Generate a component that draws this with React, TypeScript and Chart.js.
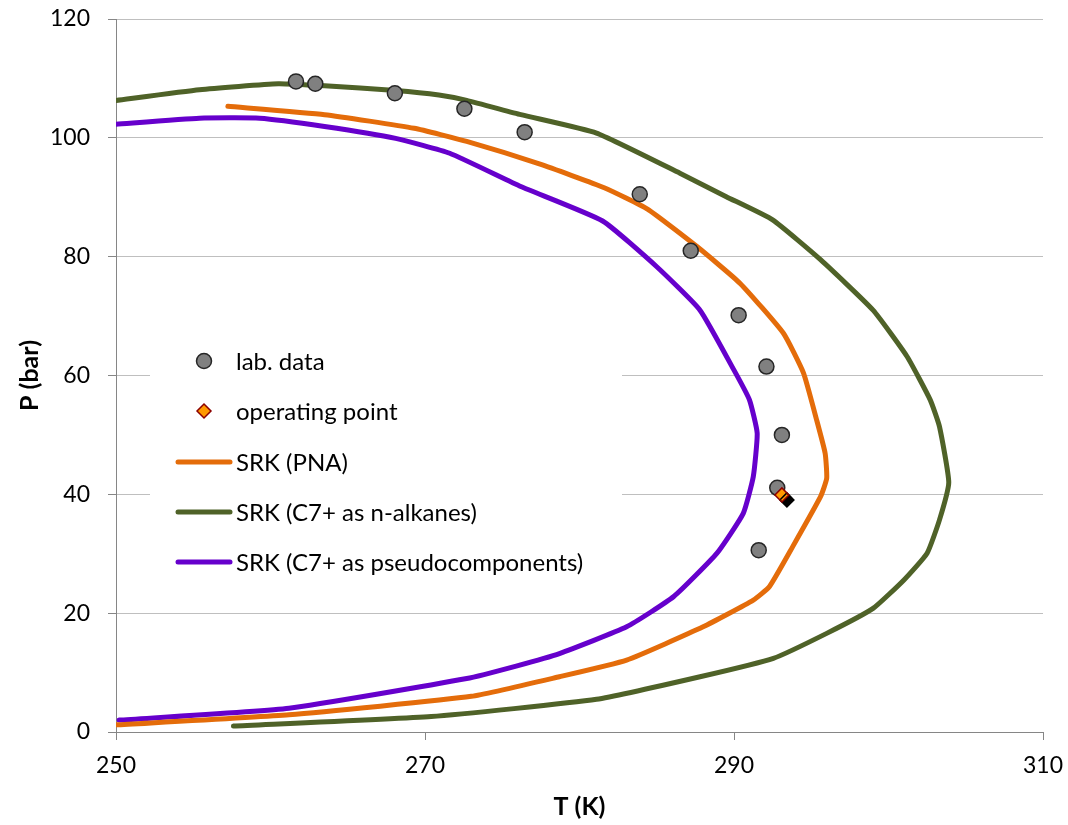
import React, { useEffect, useRef } from "react";
import { Chart, registerables } from "chart.js";

Chart.register(...registerables);

// Lab data
const labT = [261.65, 262.9, 268.05, 272.55, 276.45, 283.9, 287.2, 290.3, 292.1, 293.1, 292.8, 291.6];
const labP = [109.5, 109.1, 107.5, 104.9, 100.95, 90.5, 81.0, 70.15, 61.5, 50.0, 41.1, 30.6];

// Operating point
const opT = [293.1];
const opP = [39.9];

// SRK (PNA)
const pnaT = [257.24, 263.5, 269.3, 272.7, 277.4, 281.6, 284.4, 287.6, 290.4, 293.2, 294.5, 295.35, 295.9, 296.0, 295.6, 293.8, 292.3, 291.25, 288.0, 283.05, 278.7, 273.0, 261.2, 250.0];
const pnaP = [105.3, 103.9, 101.6, 99.4, 95.6, 91.6, 88.0, 81.7, 75.5, 67.1, 60.4, 52.5, 46.9, 42.7, 39.6, 31.2, 24.5, 22.2, 17.7, 12.1, 9.3, 6.0, 2.9, 1.2];

// SRK (C7+ as n-alkanes)
const alkT = [250.0, 255.4, 260.5, 263.5, 268.1, 270.9, 272.7, 276.2, 281.1, 286.5, 289.5, 292.5, 295.6, 299.0, 301.2, 302.7, 303.3, 303.9, 303.3, 302.5, 301.0, 299.0, 296.0, 292.55, 287.8, 281.1, 270.4, 257.6];
const alkP = [106.3, 108.1, 109.1, 108.75, 107.96, 107.2, 106.3, 103.9, 100.8, 94.05, 90.1, 86.2, 79.5, 71.0, 63.2, 55.9, 51.4, 42.0, 35.7, 30.1, 25.6, 20.8, 16.6, 12.4, 9.3, 5.5, 2.6, 1.0];

// SRK (C7+ as pseudocomponents)
const psT = [250.0, 255.4, 259.3, 263.5, 268.1, 271.6, 276.2, 281.5, 285.0, 287.8, 290.0, 291.0, 291.5, 291.25, 290.6, 288.9, 286.1, 283.05, 278.7, 275.9, 272.7, 261.2, 250.2];
const psP = [102.3, 103.3, 103.3, 101.9, 99.9, 97.4, 91.8, 86.0, 78.3, 71.0, 60.9, 55.9, 50.3, 43.0, 36.8, 30.1, 22.8, 17.7, 13.2, 11.1, 9.0, 4.0, 2.0];

const xTicks = [250, 270, 290, 310];
const yTicks = [0, 20, 40, 60, 80, 100, 120];

const labels = ["lab. data", "operating point", "SRK (PNA)", "SRK (C7+ as n-alkanes)", "SRK (C7+ as pseudocomponents)"];

const FONT = "Lato, 'Open Sans', sans-serif";

const zip = (xs: number[], ys: number[]) => xs.map((x, i) => ({ x, y: ys[i] }));

const COL_PNA = "#E46C0A";
const COL_ALK = "#4F6228";
const COL_PS = "#6600CC";

const shadowPlugin = {
  id: "opShadow",
  beforeDatasetDraw(chart: any, args: any) {
    if (args.index === 1) {
      const ctx = chart.ctx;
      ctx.save();
      ctx.shadowColor = "#000000";
      ctx.shadowOffsetX = 5;
      ctx.shadowOffsetY = 5;
      ctx.shadowBlur = 0;
    }
  },
  afterDatasetDraw(chart: any, args: any) {
    if (args.index === 1) chart.ctx.restore();
  },
};

const legendPlugin = {
  id: "insideLegend",
  beforeDatasetsDraw(chart: any) {
    const ctx = chart.ctx;
    const ds = chart.data.datasets;
    ctx.save();
    ctx.fillStyle = "#ffffff";
    ctx.fillRect(150, 332, 472, 256);
    const rowY = [361, 411, 462, 512, 562];
    ctx.font = `24px ${FONT}`;
    ctx.textBaseline = "middle";
    ctx.textAlign = "left";
    ds.forEach((d: any, i: number) => {
      const y = rowY[i];
      if (i === 0) {
        ctx.beginPath();
        ctx.arc(204, y, 7.5, 0, Math.PI * 2);
        ctx.fillStyle = d.pointBackgroundColor;
        ctx.fill();
        ctx.lineWidth = 1.5;
        ctx.strokeStyle = d.pointBorderColor;
        ctx.stroke();
      } else if (i === 1) {
        ctx.beginPath();
        ctx.moveTo(204, y - 7);
        ctx.lineTo(211, y);
        ctx.lineTo(204, y + 7);
        ctx.lineTo(197, y);
        ctx.closePath();
        ctx.fillStyle = d.pointBackgroundColor;
        ctx.fill();
        ctx.lineWidth = 1.5;
        ctx.strokeStyle = d.pointBorderColor;
        ctx.stroke();
      } else {
        ctx.beginPath();
        ctx.moveTo(178, y);
        ctx.lineTo(230, y);
        ctx.lineWidth = 5;
        ctx.lineCap = "round";
        ctx.strokeStyle = d.borderColor;
        ctx.stroke();
      }
      ctx.fillStyle = "#000000";
      ctx.fillText(d.label, 236, y + 1);
    });
    ctx.restore();
  },
};

export default function App() {
  const ref = useRef<HTMLCanvasElement>(null);

  useEffect(() => {
    if (!ref.current) return;
    const lineDs = (label: string, xs: number[], ys: number[], color: string, order: number) => ({
      label,
      data: zip(xs, ys),
      showLine: true,
      borderColor: color,
      backgroundColor: color,
      borderWidth: 5,
      pointRadius: 0,
      pointHoverRadius: 0,
      tension: 0.15,
      borderCapStyle: "round",
      borderJoinStyle: "round",
      order,
    });
    const chart = new Chart(ref.current, {
      type: "scatter",
      data: {
        datasets: [
          {
            label: labels[0],
            data: zip(labT, labP),
            pointRadius: 7.5,
            pointBackgroundColor: "#808080",
            pointBorderColor: "#262626",
            pointBorderWidth: 1.5,
            showLine: false,
            order: 1,
          },
          {
            label: labels[1],
            data: zip(opT, opP),
            pointStyle: "rectRot",
            pointRadius: 7,
            pointBackgroundColor: "#FF9900",
            pointBorderColor: "#8B0000",
            pointBorderWidth: 1.5,
            showLine: false,
            order: 0,
          },
          lineDs(labels[2], pnaT, pnaP, COL_PNA, 3),
          lineDs(labels[3], alkT, alkP, COL_ALK, 2),
          lineDs(labels[4], psT, psP, COL_PS, 4),
        ] as any,
      },
      options: {
        animation: false,
        responsive: false,
        events: [],
        layout: { padding: { left: 0, right: 25, top: 19, bottom: 0 } },
        plugins: {
          legend: { display: false },
          tooltip: { enabled: false },
        },
        scales: {
          x: {
            type: "linear",
            min: 250,
            max: 310,
            afterBuildTicks: (scale: any) => {
              scale.ticks = xTicks.map((v) => ({ value: v }));
            },
            afterFit: (scale: any) => {
              scale.height = 93;
              scale.paddingLeft = 0;
              scale.paddingRight = 0;
            },
            ticks: {
              color: "#000000",
              font: { family: FONT, size: 23 },
              padding: 12,
            },
            grid: {
              drawOnChartArea: false,
              drawTicks: true,
              tickLength: 8,
              tickColor: "#868686",
            },
            border: { color: "#868686", width: 1 },
            title: {
              display: true,
              text: "T (K)",
              color: "#000000",
              font: { family: FONT, size: 25, weight: "bold" },
              padding: { top: 0, bottom: 3 },
            },
          },
          y: {
            type: "linear",
            min: 0,
            max: 120,
            afterBuildTicks: (scale: any) => {
              scale.ticks = yTicks.map((v) => ({ value: v }));
            },
            afterFit: (scale: any) => {
              scale.width = 116;
              scale.paddingTop = 0;
              scale.paddingBottom = 0;
            },
            ticks: {
              color: "#000000",
              font: { family: FONT, size: 23 },
              padding: 18,
            },
            grid: {
              color: "#BFBFBF",
              lineWidth: 1,
              drawTicks: true,
              tickLength: 8,
              tickColor: "#868686",
            },
            border: { color: "#868686", width: 1 },
            title: {
              display: true,
              text: "P (bar)",
              color: "#000000",
              font: { family: FONT, size: 25, weight: "bold" },
              padding: { top: 15, bottom: 0 },
            },
          },
        },
      } as any,
      plugins: [legendPlugin, shadowPlugin],
    });
    return () => chart.destroy();
  }, []);

  return (
    <div style={{ position: "fixed", left: 0, top: 0, width: 1068, height: 825, background: "#ffffff" }}>
      <canvas ref={ref} width={1068} height={825} />
    </div>
  );
}
